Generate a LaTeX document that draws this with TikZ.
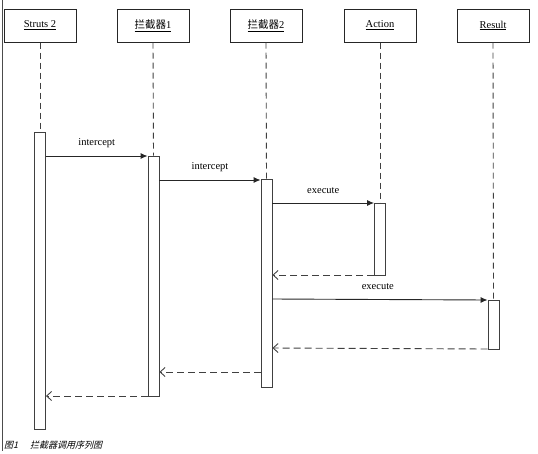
\documentclass[tikz,border=0pt]{standalone}
\usepackage{fontspec}
\setmainfont{Liberation Serif}
\newfontfamily\cjk{Noto Sans CJK SC}
\newfontfamily\cjkit[FakeSlant=0.25]{Noto Sans CJK SC}
\usetikzlibrary{arrows.meta}
\begin{document}
\begin{tikzpicture}[x=1pt,y=-1pt,
  obj/.style={draw=black!85,line width=1pt,minimum width=72pt,minimum height=33pt,inner sep=0pt,font=\fontsize{10.5}{12}\selectfont},
  act/.style={draw=black!75,line width=0.9pt,fill=white,minimum width=11pt,inner sep=0pt},
  life/.style={draw=black!75,dash pattern=on 6pt off 4pt,line width=0.9pt},
  msg/.style={draw=black!85,line width=0.9pt,-{Latex[length=7pt,width=6pt]}},
  ret/.style={draw=black!75,line width=0.9pt,dash pattern=on 7pt off 4pt,-{Straight Barb[length=5pt,width=9pt]}},
  lbl/.style={font=\fontsize{10.5}{12}\selectfont,inner sep=0pt}]
\useasboundingbox (0,0) rectangle (538,453);
\draw[black!70,line width=0.9pt] (2.5,0) -- (2.5,451);
% objects
\node[obj] (s) at (40,25.5) {\underline{Struts 2}};
\node[obj] (i1) at (153,25.5) {\underline{\cjk 拦截器\rmfamily 1}};
\node[obj] (i2) at (266,25.5) {\underline{\cjk 拦截器\rmfamily 2}};
\node[obj] (a) at (380,25.5) {\underline{Action}};
\node[obj] (r) at (493,25.5) {\underline{Result}};
% activations
\node[act,minimum height=297pt] (sa) at (40,280.5) {};
\node[act,minimum height=240pt] (i1a) at (153.5,276) {};
\node[act,minimum height=208pt] (i2a) at (266.5,283) {};
\node[act,minimum height=72pt] (aa) at (380,239) {};
\node[act,minimum height=49pt] (ra) at (493.5,324.5) {};
% lifelines
\draw[life] (s.south) -- (sa.north);
\draw[life] (i1.south) -- (i1a.north);
\draw[life] (i2.south) -- (i2a.north);
\draw[life] (a.south) -- (aa.north);
\draw[life] (r.south) -- (ra.north);
% messages
\draw[msg] (sa.east |- 0,156) -- node[lbl,above=8pt] {intercept} (i1a.west |- 0,156);
\draw[msg] (i1a.east |- 0,180) -- node[lbl,above=8pt] {intercept} (i2a.west |- 0,180);
\draw[msg] (i2a.east |- 0,203) -- node[lbl,above=9pt] {execute} (aa.west |- 0,203);
\draw[ret] (aa.west |- 0,275) -- (i2a.east |- 0,275);
\draw[msg] (i2a.east |- 0,299) -- node[lbl,pos=0.49,above=9pt] {execute} (ra.west |- 0,300);
\draw[ret] (ra.west |- 0,349) -- (i2a.east |- 0,348);
\draw[ret] (i2a.west |- 0,372) -- (i1a.east |- 0,372);
\draw[ret] (i1a.west |- 0,396) -- (sa.east |- 0,396);
% caption
\node[anchor=west,inner sep=0pt,font=\fontsize{9}{10}\selectfont\cjkit] (cap) at (4,445) {图1\hspace{12pt}拦截器调用序列图};
\end{tikzpicture}
\end{document}
